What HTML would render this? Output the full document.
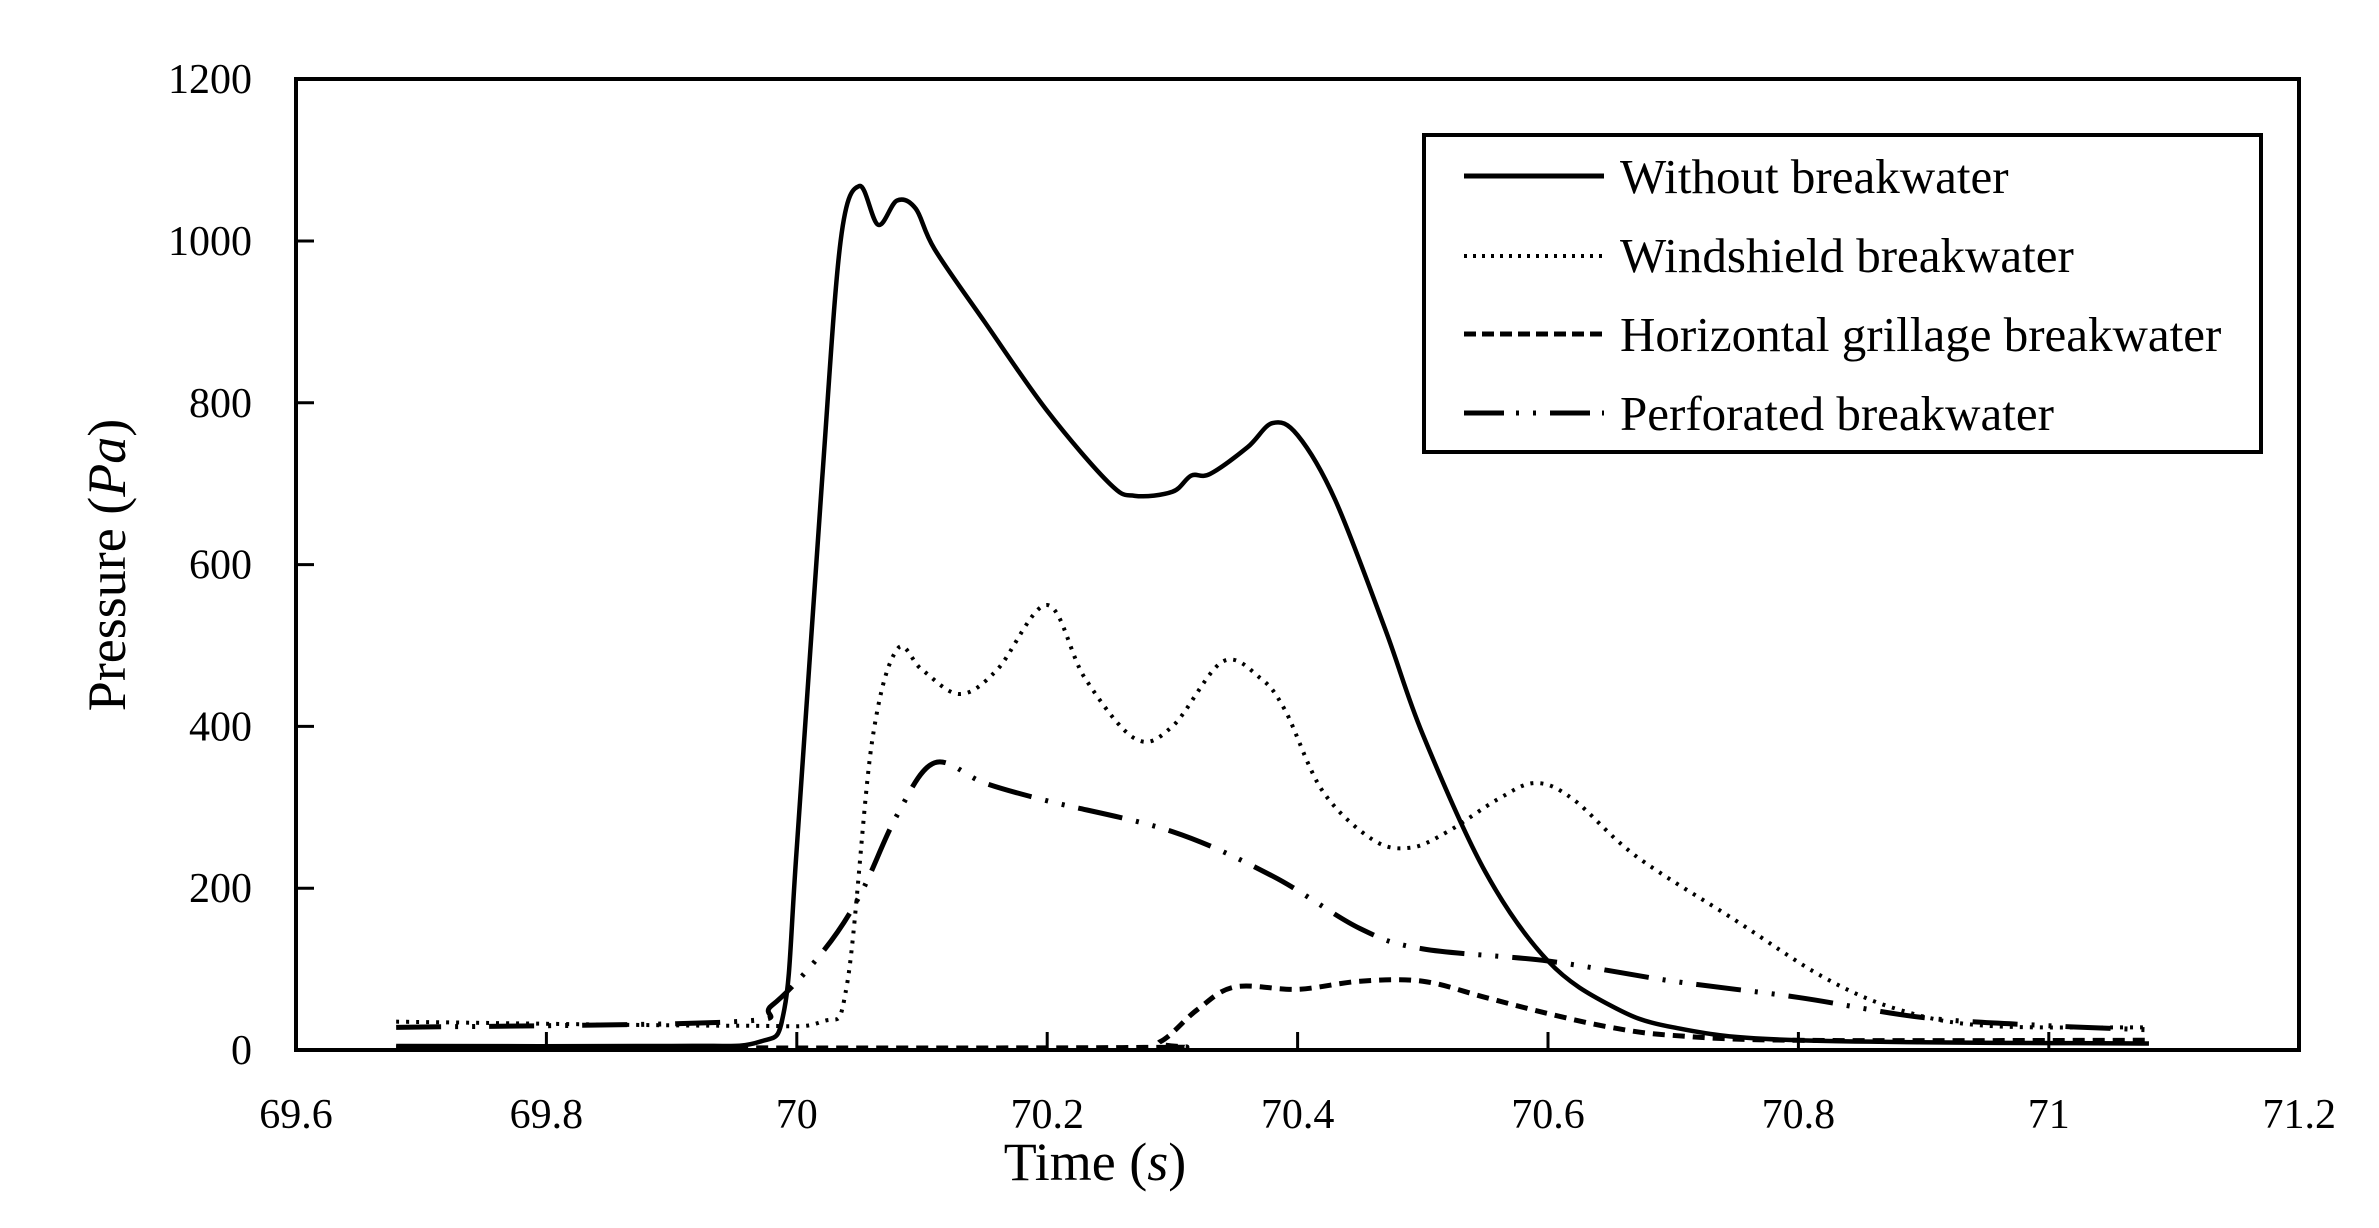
<!DOCTYPE html>
<html><head><meta charset="utf-8"><style>
html,body{margin:0;padding:0;background:#fff;}
svg{display:block;font-family:"Liberation Serif",serif;}
</style></head><body>
<svg id="s" width="2379" height="1228" viewBox="0 0 2379 1228" xmlns="http://www.w3.org/2000/svg">
<rect width="2379" height="1228" fill="#fff"/>
<g id="ticks" stroke="#000" stroke-width="3"></g>
<g id="series" fill="none" stroke="#000" stroke-linejoin="round"></g>
<rect x="296" y="79" width="2003" height="971" fill="none" stroke="#000" stroke-width="4"/>
<g font-size="42" fill="#000" id="labels"></g>
<text x="1095" y="1180" font-size="54" text-anchor="middle">Time (<tspan font-style="italic">s</tspan>)</text>
<text transform="translate(125,565) rotate(-90)" font-size="54" text-anchor="middle">Pressure (<tspan font-style="italic">Pa</tspan>)</text>
<rect x="1424" y="135" width="837" height="317" fill="#fff" stroke="#000" stroke-width="4"/>
<g stroke="#000" stroke-width="5">
<line x1="1464" y1="176" x2="1604" y2="176"/>
<line x1="1464" y1="256" x2="1604" y2="256" stroke-dasharray="3 6" stroke-width="4"/>
<line x1="1464" y1="334" x2="1604" y2="334" stroke-dasharray="12 6"/>
<line x1="1464" y1="413" x2="1604" y2="413" stroke-dasharray="40 12 3 14 3 14"/>
</g>
<g font-size="49" fill="#000">
<text x="1620" y="193">Without breakwater</text>
<text x="1620" y="272">Windshield breakwater</text>
<text x="1620" y="351">Horizontal grillage breakwater</text>
<text x="1620" y="430">Perforated breakwater</text>
</g>
</svg>
<script>
const X=t=>296+(t-69.6)/0.2*250.4, Y=p=>1050-p/200*161.8;
const ns="http://www.w3.org/2000/svg";
const tk=document.getElementById('ticks'), lb=document.getElementById('labels');
function el(p,tag,a,txt){const e=document.createElementNS(ns,tag);for(const k in a)e.setAttribute(k,a[k]);if(txt)e.textContent=txt;p.appendChild(e);}
for(let i=0;i<=8;i++){const t=69.6+i*0.2,x=X(t);el(tk,'line',{x1:x,y1:1050,x2:x,y2:1032});
el(lb,'text',{x:x,y:1128,'text-anchor':'middle'},(Math.round(t*10)/10).toString());}
for(let i=0;i<=6;i++){const y=Y(i*200);el(tk,'line',{x1:296,y1:y,x2:314,y2:y});
el(lb,'text',{x:252,y:y+14,'text-anchor':'end'},String(i*200));}
function path(d){const P=d.map(([t,p])=>[X(t),Y(p)]);let s='M'+P[0][0]+','+P[0][1];
for(let i=0;i<P.length-1;i++){const p0=P[i-1]||P[i],p1=P[i],p2=P[i+1],p3=P[i+2]||p2;
s+=` C${p1[0]+(p2[0]-p0[0])/6},${p1[1]+(p2[1]-p0[1])/6} ${p2[0]-(p3[0]-p1[0])/6},${p2[1]-(p3[1]-p1[1])/6} ${p2[0]},${p2[1]}`;}return s;}
const S=[
[[[69.68,5],[69.9,5],[69.97,10],[69.99,50],[70.0,250],[70.02,700],[70.035,1000],[70.05,1068],[70.065,1020],[70.08,1050],[70.095,1040],[70.11,990],[70.15,900],[70.2,790],[70.25,700],[70.27,685],[70.3,690],[70.315,710],[70.33,712],[70.36,745],[70.38,775],[70.4,760],[70.43,680],[70.47,520],[70.5,390],[70.55,220],[70.6,110],[70.65,55],[70.7,28],[70.8,12],[71.08,8]],{'stroke-width':4.5}],
[[[69.68,35],[69.95,30],[70.02,35],[70.04,80],[70.06,380],[70.08,495],[70.1,470],[70.13,440],[70.16,470],[70.2,550],[70.23,460],[70.27,385],[70.3,400],[70.34,480],[70.37,460],[70.39,420],[70.42,320],[70.46,260],[70.49,250],[70.52,270],[70.56,310],[70.59,330],[70.62,310],[70.67,240],[70.75,160],[70.82,90],[70.88,50],[70.95,30],[71.08,28]],{'stroke-width':4,'stroke-dasharray':'3 7'}],
[[[69.68,3],[70.26,3],[70.29,10],[70.32,50],[70.35,78],[70.4,75],[70.45,85],[70.5,85],[70.55,65],[70.6,45],[70.65,28],[70.7,18],[70.8,12],[71.08,12]],{'stroke-width':5,'stroke-dasharray':'12 8'}],
[[[69.68,28],[69.95,35],[69.98,55],[70.02,120],[70.05,190],[70.08,290],[70.11,355],[70.15,330],[70.2,308],[70.3,270],[70.38,215],[70.45,150],[70.5,125],[70.6,110],[70.7,85],[70.8,65],[70.9,40],[71.0,30],[71.08,25]],{'stroke-width':5,'stroke-dasharray':'45 14 3 14 3 14'}]];
const g=document.getElementById('series');
S.forEach(([d,a])=>{a.d=path(d);el(g,'path',a);});
</script>
</body></html>
